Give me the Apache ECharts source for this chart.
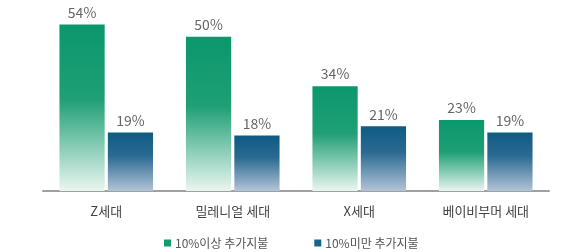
<!DOCTYPE html>
<html><head><meta charset="utf-8">
<script src="https://cdn.jsdelivr.net/npm/echarts@6/dist/echarts.min.js"></script>
<style>html,body{margin:0;padding:0;background:#fff}#c{width:588px;height:252px}</style>
</head><body><div id="c"></div>
<script>
const categories = ['Z세대', '밀레니얼 세대', 'X세대', '베이비부머 세대'];
const seriesNames = ['10%이상 추가지불', '10%미만 추가지불'];
const above10 = [54, 50, 34, 23];
const below10 = [19, 18, 21, 19];

const chart = echarts.init(document.getElementById('c'), null, {renderer: 'canvas'});
const grad = (c0, c1, c2, mid) => new echarts.graphic.LinearGradient(0, 0, 0, 1, [
  {offset: 0, color: c0}, {offset: mid, color: c1}, {offset: 1, color: c2}
]);
const font = '"Noto Sans CJK KR", "Noto Sans", sans-serif';
chart.setOption({
  animation: false,
  grid: {left: 43, width: 506, top: 6, bottom: 61, containLabel: false},
  legend: {
    left: 164, top: 235, itemWidth: 7, itemHeight: 7, itemGap: 46,
    icon: 'rect', padding: 0,
    textStyle: {fontSize: 12, lineHeight: 16, color: '#555', fontFamily: font, padding: [0, 0, 0, -1]},
    data: [{name: seriesNames[0], itemStyle: {color: '#169a6f'}}, {name: seriesNames[1], itemStyle: {color: '#19658a'}}]
  },
  xAxis: {
    type: 'category', data: categories,
    axisLine: {lineStyle: {color: '#a0a0a0', width: 2}},
    axisTick: {show: false},
    axisLabel: {fontSize: 13, color: '#444', margin: 14, fontFamily: font}
  },
  yAxis: {type: 'value', min: 0, max: 60, show: false, splitLine: {show: false}},
  series: [
    {
      name: seriesNames[0], type: 'bar', data: above10, barGap: '7%', barCategoryGap: '26%',
      itemStyle: {color: grad('#0b976c', '#1f9f76', '#eaf6f0', 0.45)},
      label: {show: true, position: 'top', distance: 5, fontSize: 14, color: '#666', fontFamily: font, formatter: '{c}%'}
    },
    {
      name: seriesNames[1], type: 'bar', data: below10,
      itemStyle: {color: grad('#0e5b83', '#2a6a91', '#b3c4d8', 0.4)},
      label: {show: true, position: 'top', distance: 5, fontSize: 14, color: '#666', fontFamily: font, formatter: '{c}%'}
    }
  ]
});
</script></body></html>
